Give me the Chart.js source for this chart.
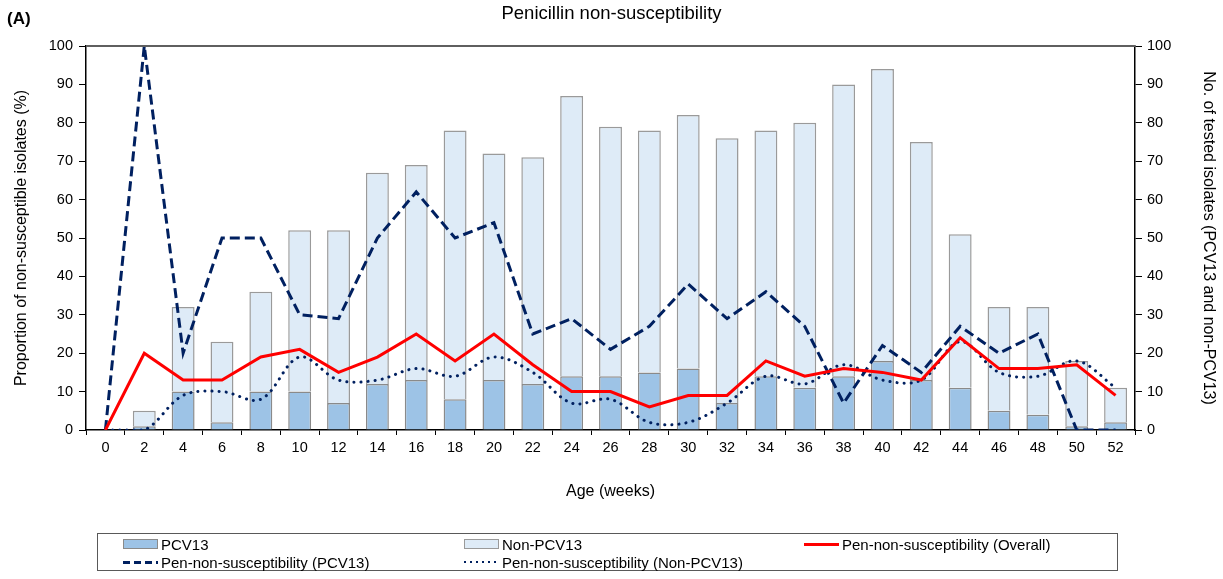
<!DOCTYPE html>
<html>
<head>
<meta charset="utf-8">
<title>Penicillin non-susceptibility</title>
<script src="https://cdn.jsdelivr.net/npm/chart.js@4.4.1/dist/chart.umd.min.js"></script>
<style>
  body { margin: 0; background: #fff; font-family: "Liberation Sans", Arial, sans-serif; }
  #wrap { position: relative; width: 1223px; height: 579px; }
  #panel { position: absolute; left: 7px; top: 9px; font-size: 17px; line-height: 20px; font-weight: bold; }
  #legend {
    position: absolute; left: 97px; top: 533px; width: 1021px; height: 38px;
    box-sizing: border-box; border: 1px solid #595959;
    display: grid; grid-template-columns: 341px 340px auto; grid-auto-rows: 18px;
    padding: 1px 0 0 25px; font-size: 15px; color: #000;
  }
  .item { display: flex; align-items: center; white-space: nowrap; }
  .swatch { width: 35px; margin-right: 3px; box-sizing: border-box; }
</style>
</head>
<body>
<div id="wrap">
  <canvas id="penChart" width="1223" height="579"></canvas>
  <div id="panel">(A)</div>
  <div id="legend"></div>
</div>
<script>
"use strict";

// age in weeks (x categories)
const weeks = ["0", "2", "4", "6", "8", "10", "12", "14", "16", "18", "20", "22", "24", "26",
  "28", "30", "32", "34", "36", "38", "40", "42", "44", "46", "48", "50", "52"];

// number of tested isolates (right axis, stacked)
const pcv13Isolates = [0, 1, 10, 2, 10, 10, 7, 12, 13, 8, 13, 12, 14, 14, 15, 16, 7, 14, 11, 14, 18, 13, 11, 5, 4, 1, 2];
const nonPcv13Isolates = [0, 4, 22, 21, 26, 42, 45, 55, 56, 70, 59, 59, 73, 65, 63, 66, 69, 64, 69, 76, 76, 62, 40, 27, 28, 17, 9];

// proportion non-susceptible, % (left axis)
const penOverall = [0, 20, 13, 13, 19, 21, 15, 19, 25, 18, 25, 17, 10, 10, 6, 9, 9, 18, 14, 16, 15, 13, 24, 16, 16, 17, 9];
const penPcv13 = [0, 100, 20, 50, 50, 30, 29, 50, 62, 50, 54, 25, 29, 21, 27, 38, 29, 36, 27, 7, 22, 15, 27, 20, 25, 0, 0];
const penNonPcv13 = [0, 0, 9, 10, 8, 19, 13, 13, 16, 14, 19, 15, 7, 8, 2, 2, 7, 14, 12, 17, 13, 13, 23, 15, 14, 18, 11];

const FONT = "'Liberation Sans', Arial, sans-serif";
const NAVY = "#002060";

// grey line along the top of the plot area
const plotFrame = {
  id: "plotFrame",
  afterDraw(chart) {
    const { ctx, chartArea } = chart;
    ctx.save();
    ctx.strokeStyle = "#5f5f5f";
    ctx.lineWidth = 2;
    ctx.beginPath();
    ctx.moveTo(chartArea.left, chartArea.top);
    ctx.lineTo(chartArea.right, chartArea.top);
    ctx.stroke();
    ctx.restore();
  },
};

// boxed legend below the chart, three columns
const htmlLegend = {
  id: "htmlLegend",
  afterUpdate(chart) {
    const box = document.getElementById("legend");
    box.innerHTML = "";
    chart.data.datasets.forEach((ds) => {
      const item = document.createElement("div");
      item.className = "item";
      const sw = document.createElement("span");
      sw.className = "swatch";
      if (ds.type === "line") {
        const w = ds.borderWidth;
        sw.style.height = w + "px";
        if (!ds.borderDash) {
          sw.style.background = ds.borderColor;
        } else if (ds.borderDash[0] < 1) {
          sw.style.background = `repeating-linear-gradient(90deg, ${ds.borderColor} 0 2px, transparent 2px 6px)`;
          sw.style.height = "2px";
        } else {
          sw.style.background = `repeating-linear-gradient(90deg, ${ds.borderColor} 0 7px, transparent 7px 11px)`;
        }
      } else {
        sw.style.height = "10px";
        sw.style.background = ds.backgroundColor;
        sw.style.border = "1px solid " + ds.borderColor;
      }
      const txt = document.createElement("span");
      txt.textContent = ds.label;
      item.appendChild(sw);
      item.appendChild(txt);
      box.appendChild(item);
    });
  },
};

const ctx = document.getElementById("penChart").getContext("2d");

new Chart(ctx, {
  type: "bar",
  data: {
    labels: weeks,
    datasets: [
      {
        label: "PCV13",
        data: pcv13Isolates,
        yAxisID: "y2",
        backgroundColor: "#9dc3e6",
        borderColor: "#8a8a8a",
        borderWidth: 1.5,
        barPercentage: 0.59,
        categoryPercentage: 1,
        order: 2,
      },
      {
        label: "Non-PCV13",
        data: nonPcv13Isolates,
        yAxisID: "y2",
        backgroundColor: "#deebf7",
        borderColor: "#9a9a9a",
        borderWidth: 1.5,
        barPercentage: 0.59,
        categoryPercentage: 1,
        order: 2,
      },
      {
        type: "line",
        label: "Pen-non-susceptibility (Overall)",
        data: penOverall,
        yAxisID: "y",
        borderColor: "#ff0000",
        borderWidth: 3,
        pointRadius: 0,
        tension: 0,
        order: 1,
      },
      {
        type: "line",
        label: "Pen-non-susceptibility (PCV13)",
        data: penPcv13,
        yAxisID: "y",
        borderColor: NAVY,
        borderWidth: 3,
        borderDash: [10, 5],
        pointRadius: 0,
        tension: 0,
        order: 1,
      },
      {
        type: "line",
        label: "Pen-non-susceptibility (Non-PCV13)",
        data: penNonPcv13,
        yAxisID: "y",
        borderColor: NAVY,
        borderWidth: 3,
        borderDash: [0.1, 7],
        borderCapStyle: "round",
        pointRadius: 0,
        tension: 0.35,
        order: 1,
      },
    ],
  },
  options: {
    responsive: false,
    animation: false,
    layout: { padding: { left: 0, right: 0, top: 0, bottom: 74 } },
    plugins: {
      legend: { display: false },
      tooltip: { enabled: false },
      title: {
        display: true,
        text: "Penicillin non-susceptibility",
        color: "#000",
        font: { family: FONT, size: 18.5, weight: "normal" },
        padding: { top: 3, bottom: 20.8 },
      },
    },
    scales: {
      x: {
        stacked: true,
        ticks: { color: "#000", font: { family: FONT, size: 14.5 }, padding: 4, maxRotation: 0, autoSkip: false },
        grid: { drawOnChartArea: false, tickLength: 5, color: "#000", lineWidth: 1 },
        border: { color: "#000", width: 1.5 },
        title: {
          display: true,
          text: "Age (weeks)",
          color: "#000",
          font: { family: FONT, size: 16 },
          padding: { top: 20, bottom: 4 },
        },
        afterFit(scale) { scale.height = 75; },
      },
      y: {
        position: "left",
        min: 0,
        max: 100,
        ticks: { stepSize: 10, color: "#000", font: { family: FONT, size: 14.5 }, padding: 6 },
        grid: { drawOnChartArea: false, tickLength: 7, color: "#000", lineWidth: 1 },
        border: { color: "#000", width: 1.5 },
        title: {
          display: true,
          text: "Proportion of non-susceptible isolates (%)",
          color: "#000",
          font: { family: FONT, size: 16 },
          padding: { top: 12, bottom: 0 },
        },
        afterFit(scale) { scale.width = 86; },
      },
      y2: {
        position: "right",
        stacked: true,
        min: 0,
        max: 100,
        ticks: { stepSize: 10, color: "#000", font: { family: FONT, size: 14.5 }, padding: 5 },
        grid: { drawOnChartArea: false, tickLength: 7, color: "#000", lineWidth: 1 },
        border: { color: "#000", width: 1.5 },
        title: {
          display: true,
          text: "No. of tested isolates (PCV13 and non-PCV13)",
          color: "#000",
          font: { family: FONT, size: 16 },
          padding: { top: 5, bottom: 0 },
        },
        afterFit(scale) { scale.width = 88; },
      },
    },
  },
  plugins: [plotFrame, htmlLegend],
});
</script>
</body>
</html>
